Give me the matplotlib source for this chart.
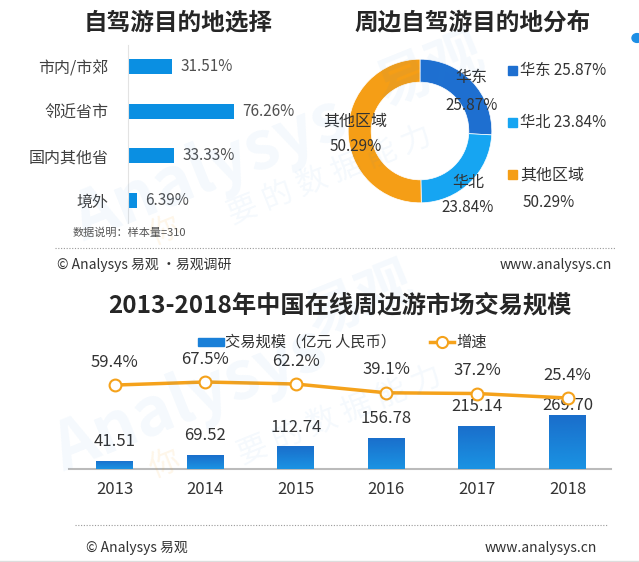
import matplotlib
matplotlib.use("Agg")
import matplotlib.pyplot as plt
import numpy as np
from matplotlib.patches import Rectangle, Circle
from matplotlib.lines import Line2D
from matplotlib.colors import LinearSegmentedColormap

plt.rcParams['font.family'] = ['Noto Sans CJK SC', 'DejaVu Sans']

# data
dest_cats = ['市内/市郊', '邻近省市', '国内其他省', '境外']
dest_vals = [31.51, 76.26, 33.33, 6.39]

region_names = ['华东', '华北', '其他区域']
region_vals = [25.87, 23.84, 50.29]

years = ['2013', '2014', '2015', '2016', '2017', '2018']
scale = [41.51, 69.52, 112.74, 156.78, 215.14, 269.70]
growth = [59.4, 67.5, 62.2, 39.1, 37.2, 25.4]

W, H = 639, 562
fig = plt.figure(figsize=(W / 100, H / 100), dpi=100)
fig.patch.set_facecolor('white')


def ax_px(l, t, w, h):
    return fig.add_axes([l / W, 1 - (t + h) / H, w / W, h / H])


def ftext(x, y, s, **kw):
    fig.text(x / W, 1 - y / H, s, **kw)


# watermarks
wm = dict(color='#2E86DE', alpha=0.05, rotation=22, ha='center', va='center', fontweight='bold')
ftext(210, 170, 'Analysys', fontsize=48, **wm)
ftext(430, 70, '易观', fontsize=40, **wm)
ftext(190, 400, 'Analysys', fontsize=48, **wm)
ftext(360, 300, '易观', fontsize=40, **wm)
ftext(330, 175, '要 的 数 据 能 力', fontsize=22, color='#2E86DE', alpha=0.05, rotation=22, ha='center', va='center')
ftext(165, 232, '你', fontsize=22, color='#F5A623', alpha=0.1, rotation=22, ha='center', va='center')
ftext(340, 415, '要 的 数 据 能 力', fontsize=22, color='#2E86DE', alpha=0.05, rotation=22, ha='center', va='center')
ftext(165, 465, '你', fontsize=22, color='#F5A623', alpha=0.1, rotation=22, ha='center', va='center')

dark = '#404040'

# ---- top left: horizontal bars
ftext(178, 22, '自驾游目的地选择', fontsize=17, fontweight='bold', color='#262626', ha='center', va='center')
ax1 = ax_px(128, 44.5, 180, 178)
ypos = np.arange(len(dest_cats))
ax1.barh(ypos, dest_vals, height=0.34, color='#0A8FE2')
ax1.set_ylim(3.5, -0.5)
ax1.set_xlim(0, 180 / 1.39)
ax1.set_yticks(ypos)
ax1.set_yticklabels(dest_cats, fontsize=11.5, color=dark)
ax1.tick_params(axis='y', length=0, pad=14)
ax1.set_xticks([])
for s in ['top', 'right', 'bottom']:
    ax1.spines[s].set_visible(False)
ax1.spines['left'].set_color('#E3E3E3')
ax1.patch.set_alpha(0)
for y, v in zip(ypos, dest_vals):
    ax1.annotate(f'{v:.2f}%', (v, y), xytext=(6, 0), textcoords='offset points',
                 va='center', ha='left', fontsize=11, color='#505050')
ftext(73, 233, '数据说明：样本量=310', fontsize=8, color='#555555', va='center')

# ---- top right: donut
ftext(473, 22, '周边自驾游目的地分布', fontsize=17, fontweight='bold', color='#262626', ha='center', va='center')
ax2 = ax_px(420 - 79, 131 - 79, 158, 158)
colors = ['#1E6FD0', '#16A5F2', '#F59E16']
ax2.pie(region_vals, colors=colors, startangle=90, counterclock=False, radius=1,
        wedgeprops=dict(width=0.32, edgecolor='white', linewidth=0.5))
ax2.set_xlim(-1.1, 1.1)
ax2.set_ylim(-1.1, 1.1)
ax2.set_aspect('equal')
lab_pos = [(0.72, 0.75, 0.36), (0.67, -0.72, -1.07), (-0.9, 0.14, -0.22)]
for (lx, ly1, ly2), n, v in zip(lab_pos, region_names, region_vals):
    ax2.text(lx, ly1, n, ha='center', va='center', fontsize=11.5, color='#333333')
    ax2.text(lx, ly2, f'{v:.2f}%', ha='center', va='center', fontsize=11, color='#333333')

leg_rows = [70, 122, 175]
for yy, n, v, c in zip(leg_rows, region_names, region_vals, colors):
    fig.patches.append(Rectangle((508 / W, 1 - (yy + 4.5) / H), 9 / W, 9 / H,
                                 transform=fig.transFigure, color=c))
    if n == '其他区域':
        ftext(520, yy, n, fontsize=11.5, color='#333333', va='center')
        ftext(523, yy + 27, f'{v:.2f}%', fontsize=11, color='#333333', va='center')
    else:
        ftext(520, yy, f'{n} {v:.2f}%', fontsize=11, color='#333333', va='center')

fig.patches.append(Circle((637 / W, 1 - 38 / H), 5 / W, transform=fig.transFigure, color='#1E8FE5'))

# dotted separator + footer top
fig.add_artist(Line2D([55 / W, 615 / W], [1 - 248 / H] * 2, color='#999999', lw=0.8, ls=(0, (1, 1.5))))
ftext(57, 265, '© Analysys 易观 ·易观调研', fontsize=10, color='#333333', va='center')
ftext(612, 265, 'www.analysys.cn', fontsize=10, color='#333333', va='center', ha='right')

# ---- bottom: bars + growth line
ftext(340, 305, '2013-2018年中国在线周边游市场交易规模', fontsize=17.5, fontweight='bold', color='#262626', ha='center', va='center')

ax3 = ax_px(69, 360, 542, 109)
x = np.arange(len(years))
step = 90.6
bars = ax3.bar(x, scale, width=37 / step, color='#1A80D8', zorder=2)
cmap = LinearSegmentedColormap.from_list('bg', ['#1A93E3', '#1A6ECB'])
grad = np.linspace(0, 1, 100).reshape(-1, 1)
for b in bars:
    im = ax3.imshow(grad, cmap=cmap, aspect='auto', zorder=3,
                    extent=[b.get_x(), b.get_x() + b.get_width(), b.get_height(), 0])
    im.set_clip_path(b)
ax3.set_xlim((69 - 114.5) / step, (611 - 114.5) / step)
ax3.set_ylim(0, 109 / 0.2)
for i, v in enumerate(scale):
    off = 7 if i == len(scale) - 1 else 14
    ax3.annotate(f'{v:.2f}', (i, v), xytext=(0, off), textcoords='offset points',
                 ha='center', va='center', fontsize=12, color='#333333', zorder=6)
ax3.set_xticks(x)
ax3.set_xticklabels(years, fontsize=12, color='#333333')
ax3.tick_params(axis='x', length=0, pad=9)
ax3.set_yticks([])
for s in ['top', 'right', 'left']:
    ax3.spines[s].set_visible(False)
ax3.spines['bottom'].set_color('#BBBBBB')
ax3.spines['bottom'].set_linewidth(1.5)
ax3.patch.set_alpha(0)

ax4 = ax3.twinx()
ax4.set_ylim(25.4 - 71 / 0.38, 25.4 + 38 / 0.38)
ax4.plot(x, growth, color='#F5A21B', lw=2.5, marker='o', markersize=8.5,
         markerfacecolor='white', markeredgecolor='#F5A21B', markeredgewidth=1.5, zorder=5)
for i, v in enumerate(growth):
    ax4.annotate(f'{v}%', (i, v), xytext=(0, 16.5), textcoords='offset points',
                 ha='center', va='center', fontsize=12, color='#333333')
ax4.set_yticks([])
for s in ['top', 'right', 'left', 'bottom']:
    ax4.spines[s].set_visible(False)

# legend
fig.patches.append(Rectangle((198 / W, 1 - 346 / H), 26 / W, 8 / H,
                             transform=fig.transFigure, color='#1A80D8'))
ftext(225, 342, '交易规模（亿元 人民币）', fontsize=11, color='#333333', va='center')
fig.add_artist(Line2D([430 / W, 454 / W], [1 - 342 / H] * 2, color='#F5A21B', lw=2.5))
fig.add_artist(Line2D([442 / W], [1 - 342 / H], marker='o', markersize=8, color='#F5A21B',
                      markerfacecolor='white', markeredgewidth=1.5))
ftext(456, 342, '增速', fontsize=11, color='#333333', va='center')

fig.add_artist(Line2D([75 / W, 607 / W], [1 - 525 / H] * 2, color='#999999', lw=0.8, ls=(0, (1, 1.5))))
ftext(86, 548, '© Analysys 易观', fontsize=10, color='#333333', va='center')
ftext(597, 548, 'www.analysys.cn', fontsize=10, color='#333333', va='center', ha='right')
fig.add_artist(Line2D([0, 1], [1 - 560.5 / H] * 2, color='#DDDDDD', lw=1))

fig.savefig('out.png', dpi=100)
